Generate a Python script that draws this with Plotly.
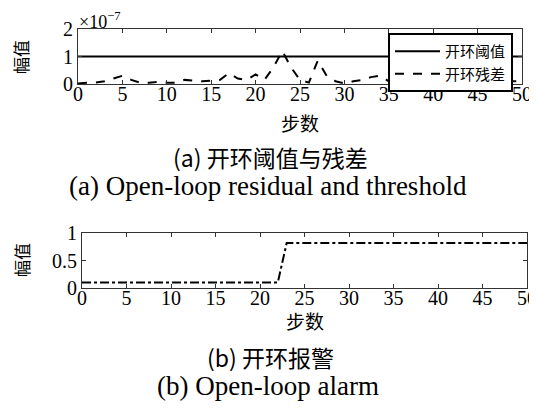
import plotly.graph_objects as go

steps = list(range(0, 51))
residual_e7 = [0.02, 0.05, 0.05, 0.1, 0.2, 0.3, 0.15, 0.05, 0.05, 0.08,
               0.05, 0.05, 0.15, 0.12, 0.1, 0.12, 0.15, 0.4, 0.2, 0.15,
               0.35, 0.15, 0.6, 1.2, 0.6, 0.15, 0.05, 0.85, 0.3, 0.1,
               0.02, 0.1, 0.15, 0.25, 0.3, 0.1, 0.25, 0.2, 0.25, 0.05,
               0.15, 0.1, 0.1, 0.1, 0.15, 0.2, 0.1, 0.15, 0.15, 0.1, 0.1]
threshold_e7 = [1.0] * 51
alarm_steps = [0, 22, 23, 50]
alarm_vals = [0.1, 0.1, 0.82, 0.82]

x_ticks = [0, 5, 10, 15, 20, 25, 30, 35, 40, 45, 50]
y1_ticks = [0, 1, 2]
y2_ticks = [0, 0.5, 1]
y2_labels = ["0", "0.5", "1"]

W, H = 537, 414
OFF = 8  # page body margin offset
serif = "Liberation Serif, Times New Roman, serif"
cjk = "Noto Sans CJK SC"

fig = go.Figure()
fig.add_trace(go.Scatter(x=steps, y=threshold_e7, mode="lines", name="开环阈值",
                         line=dict(color="black", width=1.8), xaxis="x", yaxis="y"))
fig.add_trace(go.Scatter(x=steps, y=residual_e7, mode="lines", name="开环残差",
                         line=dict(color="black", width=2, dash="dash"), xaxis="x", yaxis="y"))
fig.add_trace(go.Scatter(x=alarm_steps, y=alarm_vals, mode="lines", showlegend=False,
                         line=dict(color="black", width=2, dash="dashdot"), xaxis="x2", yaxis="y2"))

def fx(x):
    return (x - OFF) / W

def fy(y):
    return 1 - (y - OFF) / H

def px_x(a, b):
    return [fx(a), fx(b)]

def px_y(top, bottom):
    return [fy(bottom), fy(top)]

axis_common = dict(showline=True, linecolor="#333", linewidth=1, mirror="ticks",
                   ticks="inside", ticklen=4, tickcolor="#333", showgrid=False,
                   zeroline=False, automargin=False,
                   tickfont=dict(family=serif, size=20, color="black"))

fig.update_layout(
    width=W, height=H, margin=dict(l=0, r=0, t=0, b=0, autoexpand=False),
    paper_bgcolor="white", plot_bgcolor="white",
    xaxis=dict(domain=px_x(78, 522), range=[0, 50], tickvals=x_ticks, anchor="y",
               ticklabelstandoff=-8, **axis_common),
    yaxis=dict(domain=px_y(29, 84), range=[0, 2], tickvals=y1_ticks, anchor="x", **axis_common),
    xaxis2=dict(domain=px_x(82, 527), range=[0, 50], tickvals=x_ticks, anchor="y2",
                ticklabelstandoff=-8, **axis_common),
    yaxis2=dict(domain=px_y(233, 288), range=[0, 1], tickvals=y2_ticks, ticktext=y2_labels,
                anchor="x2", **axis_common),
    legend=dict(x=fx(388), y=fy(33), xanchor="left", yanchor="top",
                bgcolor="white", bordercolor="black", borderwidth=2, itemwidth=45,
                font=dict(family=cjk, size=15, color="black"), tracegroupgap=0),
    showlegend=True,
)

def ann(text, x, y, size=18, family=cjk, angle=0):
    fig.add_annotation(text=text, x=fx(x), y=fy(y), xref="paper", yref="paper",
                       showarrow=False, font=dict(family=family, size=size, color="black"),
                       textangle=angle, xanchor="center", yanchor="middle")

ann("×10<sup>−7</sup>", 100, 20, size=18, family=serif)
ann("幅值", 21, 57, size=17, angle=-90)
ann("幅值", 21, 260, size=17, angle=-90)
ann("步数", 300, 122, size=19)
ann("步数", 305, 320, size=19)
ann("(a) 开环阈值与残差", 270, 157, size=23)
ann("(a) Open-loop residual and threshold", 268, 186, size=27, family=serif)
ann("(b) 开环报警", 270, 357, size=23)
ann("(b) Open-loop alarm", 268, 386, size=27, family=serif)

fig.write_html("out.html")
